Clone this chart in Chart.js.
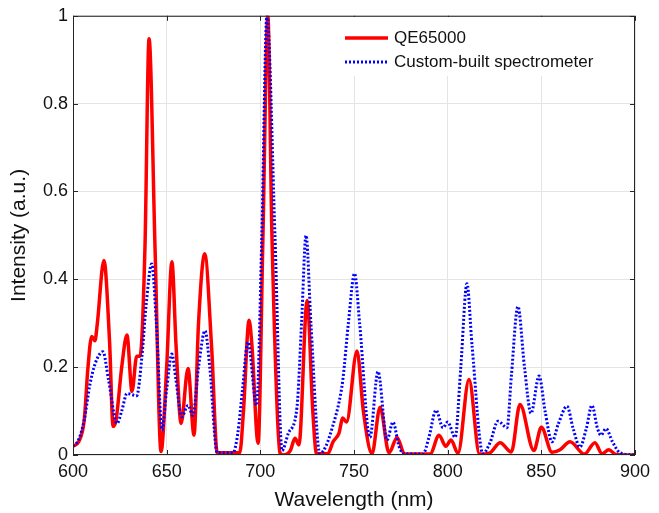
<!DOCTYPE html>
<html>
<head>
<meta charset="utf-8">
<script src="https://cdn.jsdelivr.net/npm/chart.js@4.4.0/dist/chart.umd.min.js"></script>
<style>
  html, body { margin: 0; padding: 0; background: #fff; }
  #wrap { width: 659px; height: 513px; position: relative; }
</style>
</head>
<body>
<div id="wrap"><canvas id="chartSpectrum"></canvas></div>
<script>
// dati
const wlRed = [600, 603, 606, 608, 610, 611.7, 613, 616.5, 619.5, 621.4, 623, 626, 628.8, 631.5, 634, 635.8, 638.4, 640.6, 643.8, 647,
  650, 652.8, 655, 657.7, 661.4, 664.6, 667, 670.3, 674, 677, 689, 691, 694, 695.5, 698.8, 701.4, 704, 706.2, 710.5, 712,
  716, 718.5, 720.6, 725, 728, 730, 736, 738.8, 742, 744, 746, 751.6, 755, 759.6, 763.9, 768.7, 773, 777, 790.6, 795.4,
  799, 801.8, 805.5, 811.4, 817, 822.6, 828, 834, 838.6, 846, 850, 855.7, 860, 865.3, 873, 878.6, 882.4, 886, 890, 900];
const valRed = [0.02, 0.03, 0.08, 0.2, 0.27, 0.26, 0.3, 0.443, 0.26, 0.065, 0.08, 0.2, 0.273, 0.145, 0.225, 0.225, 0.47, 0.948, 0.47, 0.008,
  0.2, 0.44, 0.25, 0.072, 0.197, 0.045, 0.3, 0.458, 0.245, 0.005, 0.005, 0.1, 0.307, 0.25, 0.027, 0.5, 1.0, 0.5, 0.005, 0,
  0.01, 0.038, 0.023, 0.352, 0.1, 0.003, 0.003, 0.03, 0.05, 0.084, 0.075, 0.237, 0.1, 0.003, 0.109, 0.005, 0.04, 0.002, 0.002, 0.045,
  0.02, 0.034, 0.004, 0.172, 0.002, 0.005, 0.028, 0.007, 0.115, 0.01, 0.063, 0.006, 0.012, 0.03, 0.002, 0.028, 0.003, 0.012, 0.001, 0];

const wlBlue = [600, 603, 606, 609, 612, 616, 619, 623.5, 626, 628.8, 634, 636.8, 639, 642, 644.5, 647.5, 650, 652.8, 655, 658,
  661.4, 664, 667, 670.5, 673, 677, 685.4, 688, 690.5, 693.4, 698, 700.8, 703.5, 707.8, 711.6, 715, 719.6, 722, 724.4, 727,
  731.8, 735, 738.8, 742, 744, 747, 750.3, 753, 758.5, 762.8, 767.6, 770.8, 774, 777, 786.8, 790, 793.8, 797.5, 800, 804,
  807, 810.3, 813, 818.8, 822.6, 826.9, 831.7, 834, 837.5, 841, 844.5, 848.8, 852, 855.7, 859, 863.7, 867, 870.6, 874, 877,
  880, 881.8, 884.5, 888, 892, 900];
const valBlue = [0.02, 0.035, 0.08, 0.16, 0.21, 0.235, 0.17, 0.072, 0.1, 0.14, 0.135, 0.225, 0.34, 0.435, 0.3, 0.057, 0.15, 0.23, 0.17, 0.087,
  0.113, 0.09, 0.2, 0.283, 0.2, 0.005, 0.005, 0.05, 0.15, 0.257, 0.113, 0.5, 1.0, 0.5, 0.01, 0.05, 0.11, 0.3, 0.5, 0.3,
  0.003, 0.02, 0.068, 0.12, 0.17, 0.3, 0.413, 0.3, 0.04, 0.19, 0.034, 0.075, 0.02, 0.002, 0.002, 0.04, 0.102, 0.062, 0.075, 0.04,
  0.2, 0.39, 0.25, 0.003, 0.028, 0.077, 0.062, 0.18, 0.338, 0.2, 0.095, 0.18, 0.1, 0.03, 0.07, 0.111, 0.06, 0.018, 0.06, 0.113,
  0.06, 0.045, 0.06, 0.03, 0.005, 0];

const seriesNames = ['QE65000', 'Custom-built spectrometer'];
const xTicks = [600, 650, 700, 750, 800, 850, 900];
const yTicks = [0, 0.2, 0.4, 0.6, 0.8, 1];

const FONT = "'Liberation Sans', Arial, Helvetica, sans-serif";
let ctx = document.getElementById('chartSpectrum').getContext('2d');

const toPoints = (xs, ys) => xs.map((x, i) => ({ x: x, y: ys[i] }));

// cornice, tacche interne e legenda stile matlab
const boxPlugin = {
  id: 'boxPlugin',
  afterDraw(chart) {
    const c = chart.ctx;
    const a = chart.chartArea;
    const sx = chart.scales.x, sy = chart.scales.y;
    c.save();
    c.strokeStyle = '#262626';
    c.lineWidth = 1;
    c.strokeRect(a.left + 0.5, a.top + 0.5, a.right - a.left - 1, a.bottom - a.top - 1);
    c.beginPath();
    xTicks.forEach(v => {
      const px = Math.round(sx.getPixelForValue(v)) + 0.5;
      c.moveTo(px, a.bottom); c.lineTo(px, a.bottom - 5);
      c.moveTo(px, a.top); c.lineTo(px, a.top + 5);
    });
    yTicks.forEach(v => {
      const py = Math.round(sy.getPixelForValue(v)) + 0.5;
      c.moveTo(a.left, py); c.lineTo(a.left + 5, py);
      c.moveTo(a.right, py); c.lineTo(a.right - 5, py);
    });
    c.stroke();

    // legenda
    c.fillStyle = '#fff';
    c.fillRect(336, 17, 286, 59);
    c.lineWidth = 3.5;
    c.strokeStyle = '#ff0000';
    c.beginPath(); c.moveTo(345, 38); c.lineTo(388, 38); c.stroke();
    c.lineWidth = 3;
    c.strokeStyle = '#0000ff';
    c.setLineDash([2, 2]);
    c.beginPath(); c.moveTo(345, 62); c.lineTo(388, 62); c.stroke();
    c.setLineDash([]);
    c.fillStyle = '#111';
    c.font = '17px ' + FONT;
    c.textBaseline = 'middle';
    c.fillText(seriesNames[0], 394, 38);
    c.fillText(seriesNames[1], 394, 62);
    c.restore();
  }
};

const dataSpectrum = {
  datasets: [{
    label: seriesNames[1],
    data: toPoints(wlBlue, valBlue),
    borderColor: '#0000ff',
    borderWidth: 3,
    borderDash: [2, 2],
    pointRadius: 0,
    cubicInterpolationMode: 'monotone'
  }, {
    label: seriesNames[0],
    data: toPoints(wlRed, valRed),
    borderColor: '#ff0000',
    borderWidth: 3.5,
    pointRadius: 0,
    cubicInterpolationMode: 'monotone'
  }]
};

const configSpectrum = {
  type: 'line',
  data: dataSpectrum,
  options: {
    responsive: true,
    maintainAspectRatio: false,
    animation: false,
    layout: { padding: { left: 0, right: 24, top: 15, bottom: 0 } },
    plugins: {
      legend: { display: false },
      tooltip: { enabled: false }
    },
    scales: {
      x: {
        type: 'linear',
        min: 600, max: 900,
        afterBuildTicks: s => { s.ticks = xTicks.map(v => ({ value: v })); },
        afterFit: s => { s.height = 58; },
        grid: { color: '#e4e4e4', drawTicks: false },
        border: { display: false },
        ticks: { color: '#111', font: { family: FONT, size: 18 }, padding: 6, maxRotation: 0 },
        title: { display: true, text: 'Wavelength (nm)', color: '#111', font: { family: FONT, size: 21 }, padding: { top: 1, bottom: 0 } }
      },
      y: {
        min: 0, max: 1,
        afterBuildTicks: s => { s.ticks = yTicks.map(v => ({ value: v })); },
        afterFit: s => { s.width = 73; },
        grid: { color: '#e4e4e4', drawTicks: false },
        border: { display: false },
        ticks: { color: '#111', font: { family: FONT, size: 18 }, padding: 5, callback: v => String(v) },
        title: { display: true, text: 'Intensity (a.u.)', color: '#111', font: { family: FONT, size: 21 }, padding: { top: 7, bottom: 0 } }
      }
    }
  },
  plugins: [boxPlugin]
};

const chartSpectrum = new Chart(ctx, configSpectrum);
</script>
</body>
</html>
